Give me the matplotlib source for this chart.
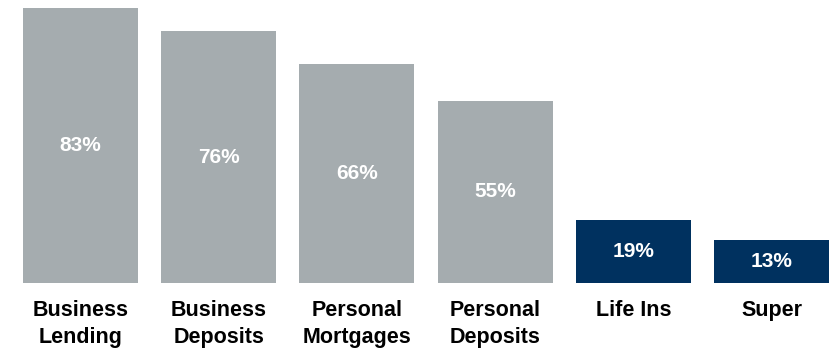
import matplotlib
matplotlib.use("Agg")
import matplotlib.pyplot as plt

categories = ["Business\nLending", "Business\nDeposits", "Personal\nMortgages",
              "Personal\nDeposits", "Life Ins", "Super"]
values = [83, 76, 66, 55, 19, 13]
labels = ["83%", "76%", "66%", "55%", "19%", "13%"]
colors = ["#A5ACAF", "#A5ACAF", "#A5ACAF", "#A5ACAF", "#00315F", "#00315F"]

plt.rcParams["font.family"] = ["Liberation Sans", "DejaVu Sans"]

fig = plt.figure(figsize=(8.3, 3.5), dpi=100)
W, H = 830, 350
ax = fig.add_axes([23 / W, 67 / H, (829 - 23) / W, (283 - 8) / H])

x = range(len(categories))
bar_w = 0.832
bars = ax.bar(x, values, width=bar_w, color=colors)
ax.set_xlim(-bar_w / 2, len(categories) - 1 + bar_w / 2)
ax.set_ylim(0, max(values))

for b, v, t in zip(bars, values, labels):
    ax.text(b.get_x() + b.get_width() / 2, v / 2, t, ha="center", va="center",
            color="white", fontsize=15, fontweight="bold")

ax.set_xticks(list(x))
ax.set_xticklabels(categories, fontsize=15.5, fontweight="bold", color="black",
                   linespacing=1.38, va="top")
ax.tick_params(axis="x", length=0, pad=12)
ax.set_yticks([])
for s in ax.spines.values():
    s.set_visible(False)

fig.savefig("out.png", dpi=100)
